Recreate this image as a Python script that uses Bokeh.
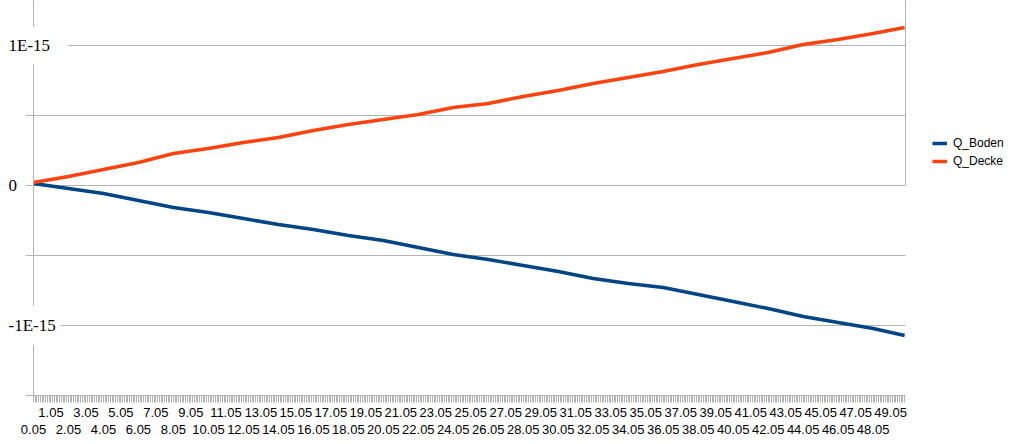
from bokeh.plotting import figure
from bokeh.models import (Range1d, FixedTicker, LinearAxis, Legend, LegendItem,
                          Label, PrintfTickFormatter, ColumnDataSource, Span)
from bokeh.embed import file_html
from bokeh.resources import INLINE

# ---- data ----
time = [0.05, 2.05, 4.05, 6.05, 8.05, 10.05, 12.05, 14.05, 16.05, 18.05,
        20.05, 22.05, 24.05, 26.05, 28.05, 30.05, 32.05, 34.05, 36.05, 38.05,
        40.05, 42.05, 44.05, 46.05, 48.05, 49.85]
q_boden = [0.014, -0.021, -0.057, -0.107, -0.157, -0.193, -0.236, -0.279, -0.314, -0.357,
           -0.393, -0.443, -0.493, -0.529, -0.571, -0.614, -0.664, -0.700, -0.729, -0.779,
           -0.829, -0.879, -0.936, -0.979, -1.021, -1.071]
q_decke = [0.021, 0.064, 0.114, 0.164, 0.229, 0.264, 0.307, 0.343, 0.393, 0.436,
           0.471, 0.507, 0.557, 0.586, 0.636, 0.679, 0.729, 0.771, 0.814, 0.864,
           0.907, 0.950, 1.007, 1.043, 1.086, 1.129]
scale = 1e-15

odd_labels = ["1.05", "3.05", "5.05", "7.05", "9.05", "11.05", "13.05", "15.05", "17.05",
              "19.05", "21.05", "23.05", "25.05", "27.05", "29.05", "31.05", "33.05", "35.05",
              "37.05", "39.05", "41.05", "43.05", "45.05", "47.05", "49.05"]
even_labels = ["0.05", "2.05", "4.05", "6.05", "8.05", "10.05", "12.05", "14.05", "16.05",
               "18.05", "20.05", "22.05", "24.05", "26.05", "28.05", "30.05", "32.05", "34.05",
               "36.05", "38.05", "40.05", "42.05", "44.05", "46.05", "48.05"]
y_ticks = [-1.5e-15, -1e-15, -5e-16, 0.0, 5e-16, 1e-15]
y_labels = ["1E-15", "0", "-1E-15"]
y_label_vals = [1e-15, 0.0, -1e-15]

src = ColumnDataSource(dict(x=time,
                            boden=[v * scale for v in q_boden],
                            decke=[v * scale for v in q_decke]))

GRID = "#b3b3b3"
BLUE = "#004586"
ORANGE = "#ff420e"

# ---- layout geometry (pixels) ----
W, H = 1024, 444
AX_LEFT_PX, AX_RIGHT_PX = 33, 905
X0, X1 = 0.05, 49.9
k = (AX_RIGHT_PX - AX_LEFT_PX) / (X1 - X0)
xr_start = X0 - AX_LEFT_PX / k
xr_end = X1 + (W - AX_RIGHT_PX) / k
x_tick_left = X0 - 8 / k
y_bottom, y_top = -1.5e-15, 185 / 140 * 1e-15

p = figure(width=W, height=H, output_backend="svg", toolbar_location=None,
           x_range=Range1d(xr_start, xr_end), y_range=Range1d(y_bottom, y_top),
           y_axis_location=None,
           min_border_left=0, min_border_right=0, min_border_top=0, min_border_bottom=49)
p.outline_line_color = None
p.background_fill_color = "white"
p.border_fill_color = "white"
p.xgrid.grid_line_color = None
p.ygrid.grid_line_color = None

# horizontal grid lines (with outer tick stubs) and upper right border
n = len(y_ticks)
p.segment(x0=[x_tick_left] * n, y0=y_ticks, x1=[X1] * n, y1=y_ticks,
          line_color=GRID, line_width=1)
p.segment(x0=[X1], y0=[0.0], x1=[X1], y1=[y_top], line_color=GRID, line_width=1)
p.add_layout(Span(location=X0, dimension="height", line_color=GRID, line_width=1))

# x axis (top row of labels + dense ticks)
minor = [round(0.05 + 0.1 * i, 2) for i in range(499)]
ax1 = p.xaxis[0]
ax1.ticker = FixedTicker(ticks=[float(s) for s in odd_labels], minor_ticks=minor)
ax1.formatter = PrintfTickFormatter(format="%.2f")
ax1.bounds = (x_tick_left, X1)
ax1.axis_line_color = GRID
ax1.major_tick_line_color = GRID
ax1.minor_tick_line_color = GRID
ax1.major_tick_out = 7
ax1.major_tick_in = 0
ax1.minor_tick_out = 7
ax1.minor_tick_in = 0
ax1.major_label_standoff = 5
ax1.major_label_text_font = "Liberation Sans"
ax1.major_label_text_font_size = "13px"
ax1.major_label_text_color = "#000000"

ax2 = LinearAxis(ticker=FixedTicker(ticks=[float(s) for s in even_labels]),
                 formatter=PrintfTickFormatter(format="%.2f"),
                 axis_line_color=None, major_tick_line_color=None, minor_tick_line_color=None,
                 major_tick_out=0, major_tick_in=0, major_label_standoff=5,
                 major_label_text_font="Liberation Sans", major_label_text_font_size="13px",
                 major_label_text_color="#000000")
p.add_layout(ax2, "below")

r1 = p.line("x", "boden", source=src, line_color=BLUE, line_width=3.5)
r2 = p.line("x", "decke", source=src, line_color=ORANGE, line_width=3.5)

legend = Legend(items=[LegendItem(label="Q_Boden", renderers=[r1]),
                       LegendItem(label="Q_Decke", renderers=[r2])],
                location=(932, 225), orientation="vertical",
                glyph_width=15, glyph_height=18, label_height=18, label_standoff=6,
                spacing=0, padding=0, margin=0,
                label_text_font="Liberation Sans", label_text_font_size="12px",
                label_text_color="#000000",
                border_line_color=None, background_fill_alpha=0)
p.add_layout(legend, "center")

pads = [dict(left=3, right=18, top=9, bottom=9),
        dict(left=3, right=4, top=2, bottom=2),
        dict(left=3, right=5, top=10, bottom=10)]
for txt, val, pad in zip(y_labels, y_label_vals, pads):
    p.add_layout(Label(x=5, y=val, x_units="screen", y_units="data", text=txt,
                       text_font="Liberation Serif", text_font_size="17px",
                       text_color="#000000", text_align="left", text_baseline="middle",
                       background_fill_color="white", padding=pad))

open("out.html", "w").write(file_html(p, INLINE))
